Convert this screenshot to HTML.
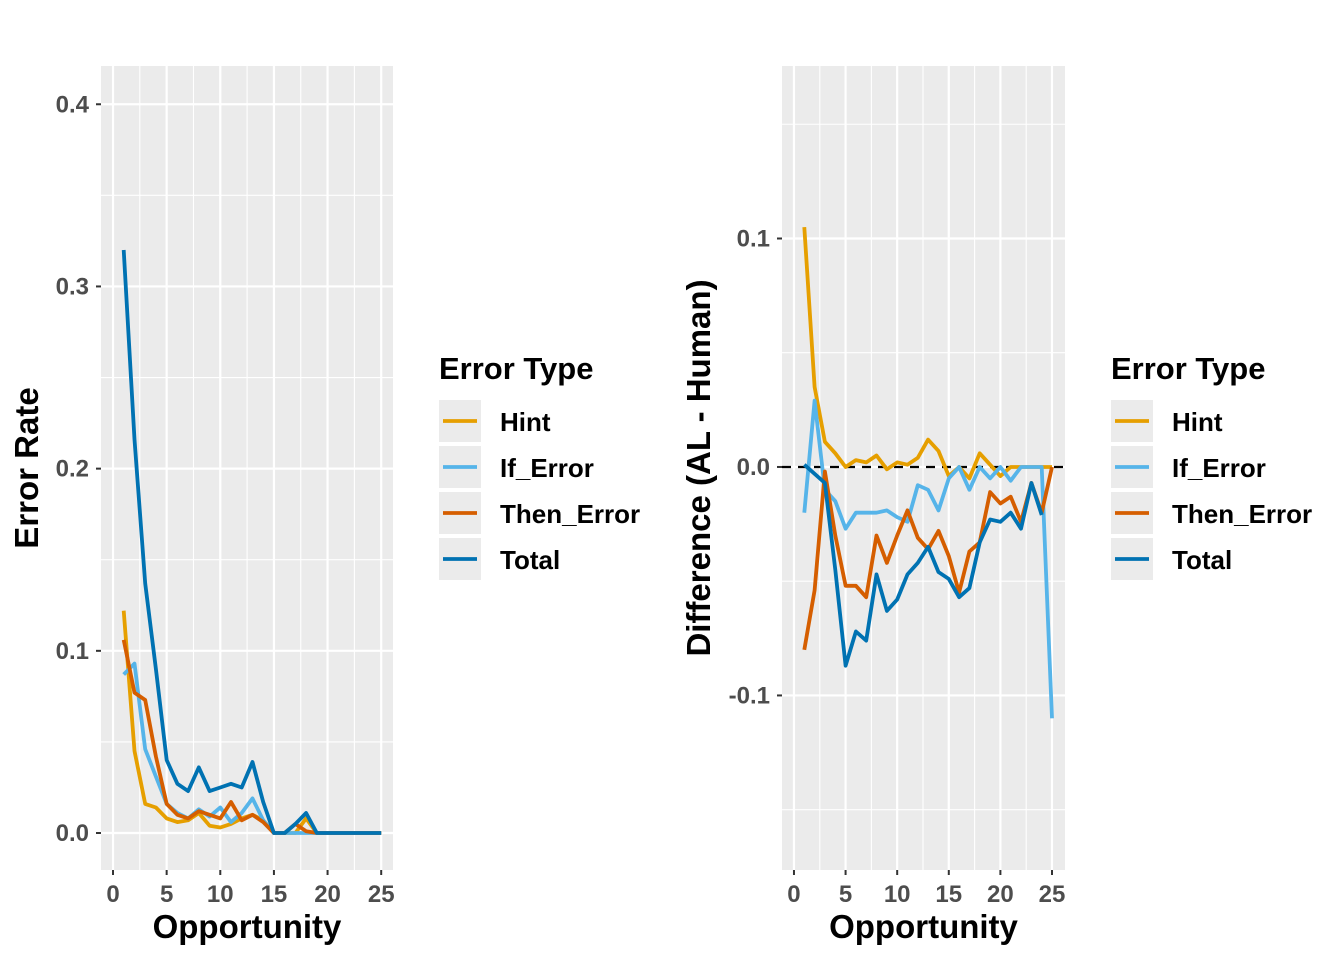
<!DOCTYPE html>
<html><head><meta charset="utf-8"><style>
body{margin:0;background:#fff;}
svg text{font-family:"Liberation Sans",sans-serif;font-weight:bold;}
</style></head><body>
<svg id="c" width="1344" height="960" xmlns="http://www.w3.org/2000/svg"></svg>
<script>
const opportunity=[1,2,3,4,5,6,7,8,9,10,11,12,13,14,15,16,17,18,19,20,21,22,23,24,25];
const seriesNames=["Hint","If_Error","Then_Error","Total"];
const colors=["#E69F00","#56B4E9","#D55E00","#0072B2"];
const rateHint=[0.122,0.045,0.016,0.014,0.008,0.006,0.007,0.011,0.004,0.003,0.005,0.008,0.010,0.007,0,0,0,0.008,0,0,0,0,0,0,0];
const rateIf=[0.087,0.093,0.046,0.031,0.016,0.011,0.008,0.013,0.009,0.014,0.006,0.011,0.019,0.007,0,0,0,0,0,0,0,0,0,0,0];
const rateThen=[0.106,0.077,0.073,0.042,0.016,0.010,0.008,0.012,0.010,0.008,0.017,0.007,0.010,0.006,0,0,0.005,0.001,0,0,0,0,0,0,0];
const rateTotal=[0.320,0.216,0.137,0.090,0.040,0.027,0.023,0.036,0.023,0.025,0.027,0.025,0.039,0.017,0,0,0.005,0.011,0,0,0,0,0,0,0];
const diffHint=[0.105,0.035,0.011,0.006,0,0.003,0.002,0.005,-0.001,0.002,0.001,0.004,0.012,0.007,-0.004,0,-0.005,0.006,0.001,-0.004,0,0,0,0,0];
const diffIf=[-0.020,0.029,-0.010,-0.015,-0.027,-0.020,-0.020,-0.020,-0.019,-0.022,-0.024,-0.008,-0.010,-0.019,-0.005,0,-0.010,0,-0.005,0,-0.006,0,0,0,-0.110];
const diffThen=[-0.080,-0.054,-0.002,-0.030,-0.052,-0.052,-0.057,-0.030,-0.042,-0.030,-0.019,-0.031,-0.036,-0.028,-0.039,-0.055,-0.037,-0.033,-0.011,-0.016,-0.013,-0.024,-0.007,-0.020,0];
const diffTotal=[0.001,-0.003,-0.007,-0.045,-0.087,-0.072,-0.076,-0.047,-0.063,-0.058,-0.047,-0.042,-0.035,-0.046,-0.049,-0.057,-0.053,-0.033,-0.023,-0.024,-0.020,-0.027,-0.007,-0.021,null];
const xTicks=[0,5,10,15,20,25];
const leftYTicks=[0,0.1,0.2,0.3,0.4];
const leftYLabels=["0.0","0.1","0.2","0.3","0.4"];
const rightYTicks=[-0.1,0,0.1];
const rightYLabels=["-0.1","0.0","0.1"];

const svg=document.getElementById('c');
const NS="http://www.w3.org/2000/svg";
function el(t,a,p){const e=document.createElementNS(NS,t);for(const k in a)e.setAttribute(k,a[k]);(p||svg).appendChild(e);return e;}

function panel(cfg){
  const g=el('g',{});
  
  
  const {L,T,R,B,x0,x1,y0,y1}=cfg;
  const sx=v=>L+(v-x0)/(x1-x0)*(R-L);
  const sy=v=>B-(v-y0)/(y1-y0)*(B-T);
  const bg=el('rect',{x:L,y:T,width:R-L,height:B-T,fill:'#EBEBEB'},g);
  
  
  for(let i=0;i<xTicks.length-1;i++){const v=(xTicks[i]+xTicks[i+1])/2;el('line',{x1:sx(v),x2:sx(v),y1:T,y2:B,stroke:'#fff','stroke-width':1.1},g);}
  for(let i=0;i<cfg.yt.length-1;i++){const v=(cfg.yt[i]+cfg.yt[i+1])/2;el('line',{x1:L,x2:R,y1:sy(v),y2:sy(v),stroke:'#fff','stroke-width':1.1},g);}
  cfg.minorExtra.forEach(v=>el('line',{x1:L,x2:R,y1:sy(v),y2:sy(v),stroke:'#fff','stroke-width':1.1},g));
  xTicks.forEach(v=>{
    el('line',{x1:sx(v),x2:sx(v),y1:T,y2:B,stroke:'#fff','stroke-width':2.2},g);
    el('line',{x1:sx(v),x2:sx(v),y1:B,y2:B+5,stroke:'#333','stroke-width':2},g);
    const t=el('text',{x:sx(v),y:B+32,'text-anchor':'middle','font-size':24,fill:'#4D4D4D'},g);t.textContent=v;
    
  });
  cfg.yt.forEach((v,i)=>{
    el('line',{x1:L,x2:R,y1:sy(v),y2:sy(v),stroke:'#fff','stroke-width':2.2},g);
    el('line',{x1:L-5,x2:L,y1:sy(v),y2:sy(v),stroke:'#333','stroke-width':2},g);
    const t=el('text',{x:L-12,y:sy(v)+8,'text-anchor':'end','font-size':24,fill:'#4D4D4D'},g);t.textContent=cfg.yl[i];
    
  });
  if(cfg.hline){const h=el('line',{x1:L,x2:R,y1:sy(0),y2:sy(0),stroke:'#000','stroke-width':2.2,'stroke-dasharray':'9,7'},g);
    }
  cfg.data.forEach((arr,si)=>{
    let d='';let pen=false;
    arr.forEach((v,i)=>{if(v===null){pen=false;return;}d+=(pen?'L':'M')+sx(opportunity[i]).toFixed(1)+','+sy(v).toFixed(1);pen=true;});
    const p=el('path',{d:d,fill:'none',stroke:colors[si],'stroke-width':3.8,'stroke-linejoin':'round'},g);
    
    
  });
  const xt=el('text',{x:(L+R)/2,y:938,'text-anchor':'middle','font-size':33,fill:'#000'},g);xt.textContent='Opportunity';
  
  const yt=el('text',{x:0,y:0,'text-anchor':'middle','font-size':33,fill:'#000',transform:`translate(${cfg.ytx},${(T+B)/2}) rotate(-90)`},g);yt.textContent=cfg.ytitle;
  
  const lg=el('g',{},g);
  
  const lx=cfg.lx;
  const tt=el('text',{x:lx,y:379,'font-size':31,fill:'#000'},lg);tt.textContent='Error Type';
  
  seriesNames.forEach((n,i)=>{
    const y=400+i*46;
    const e=el('g',{},lg);
    
    el('rect',{x:lx,y:y,width:42,height:42,fill:'#EBEBEB'},e);
    el('line',{x1:lx+4,x2:lx+38,y1:y+21,y2:y+21,stroke:colors[i],'stroke-width':3.8},e);
    const t=el('text',{x:lx+61,y:y+31,'font-size':26,fill:'#000'},e);t.textContent=n;
  });
}
panel({name:'error-rate-panel',L:101,T:66,R:393,B:870,x0:-1.12,x1:26.1,y0:-0.0203,y1:0.421,yt:leftYTicks,yl:leftYLabels,minorExtra:[],
  data:[rateHint,rateIf,rateThen,rateTotal],ytitle:'Error Rate',ytx:38,lx:439,hline:false});
panel({name:'difference-panel',L:782,T:66,R:1065,B:870,x0:-1.16,x1:26.26,y0:-0.1764,y1:0.1755,yt:rightYTicks,yl:rightYLabels,minorExtra:[0.15,-0.15],
  data:[diffHint,diffIf,diffThen,diffTotal],ytitle:'Difference (AL - Human)',ytx:710,lx:1111,hline:true});
</script>
</body></html>
